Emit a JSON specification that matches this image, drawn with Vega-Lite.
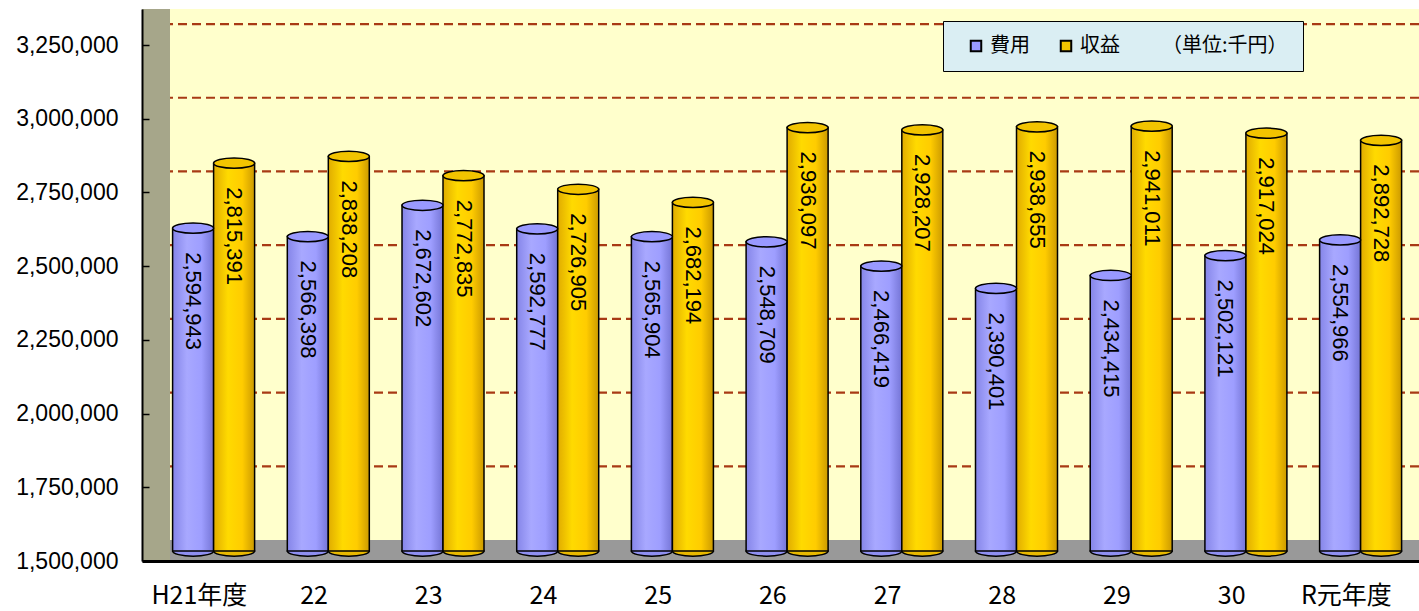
{
  "$schema": "https://vega.github.io/schema/vega-lite/v6.json",
  "width": 1277,
  "height": 552,
  "autosize": {"type": "none"},
  "padding": {"left": 142, "top": 9, "right": 0, "bottom": 50},
  "background": "white",
  "config": {"view": {"fill": "#FFFFCC", "stroke": null}},
  "data": {
    "values": [
      {"year": "H21年度", "series": "費用", "value": 2594943},
      {"year": "H21年度", "series": "収益", "value": 2815391},
      {"year": "22", "series": "費用", "value": 2566398},
      {"year": "22", "series": "収益", "value": 2838208},
      {"year": "23", "series": "費用", "value": 2672602},
      {"year": "23", "series": "収益", "value": 2772835},
      {"year": "24", "series": "費用", "value": 2592777},
      {"year": "24", "series": "収益", "value": 2726905},
      {"year": "25", "series": "費用", "value": 2565904},
      {"year": "25", "series": "収益", "value": 2682194},
      {"year": "26", "series": "費用", "value": 2548709},
      {"year": "26", "series": "収益", "value": 2936097},
      {"year": "27", "series": "費用", "value": 2466419},
      {"year": "27", "series": "収益", "value": 2928207},
      {"year": "28", "series": "費用", "value": 2390401},
      {"year": "28", "series": "収益", "value": 2938655},
      {"year": "29", "series": "費用", "value": 2434415},
      {"year": "29", "series": "収益", "value": 2941011},
      {"year": "30", "series": "費用", "value": 2502121},
      {"year": "30", "series": "収益", "value": 2917024},
      {"year": "R元年度", "series": "費用", "value": 2554966},
      {"year": "R元年度", "series": "収益", "value": 2892728}
    ]
  },
  "layer": [
    {
      "data": {"values": [{"v": 1750000}, {"v": 2000000}, {"v": 2250000}, {"v": 2500000}, {"v": 2750000}, {"v": 3000000}, {"v": 3250000}]},
      "mark": {"type": "rule", "color": "#A83A14", "strokeWidth": 2.2, "strokeDash": [9, 5], "yOffset": -21},
      "encoding": {
        "y": {"field": "v", "type": "quantitative",
          "scale": {"domain": [1500000, 3372200], "nice": false, "zero": false},
          "axis": {
            "values": [1500000, 1750000, 2000000, 2250000, 2500000, 2750000, 3000000, 3250000],
            "format": ",d", "title": null, "grid": false, "zindex": 1,
            "labelFont": "Liberation Sans", "labelFontSize": 23, "labelColor": "black",
            "domainColor": "black", "domainWidth": 2,
            "tickColor": "black", "tickSize": -7, "tickWidth": 1.5, "labelPadding": 31
          }
        }
      }
    },
    {
      "mark": {"type": "rule", "color": "#999999", "strokeWidth": 21, "yOffset": -10.5},
      "encoding": {"y": {"datum": 1500000, "type": "quantitative"}}
    },
    {
      "mark": {"type": "rule", "color": "#A6A68A", "strokeWidth": 28, "xOffset": 14},
      "encoding": {"x": {"datum": "H21年度", "type": "nominal", "bandPosition": 0}}
    },
    {
      "mark": {"type": "point", "shape": "M-1,0A1,0.25,0,1,0,1,0A1,0.25,0,1,0,-1,0Z", "size": 1681, "filled": true, "opacity": 1, "stroke": "black", "strokeWidth": 1.5, "yOffset": -10},
      "encoding": {
        "x": {"field": "year", "type": "nominal"},
        "xOffset": {"field": "series", "type": "nominal"},
        "y": {"datum": 1500000, "type": "quantitative"},
        "fill": {"condition": {"test": "datum.series === '費用'", "value": "#8F8FF0"}, "value": "#E8B800"}
      }
    },
    {
      "mark": {"type": "bar", "stroke": "black", "strokeWidth": 1.5, "yOffset": -10, "y2Offset": -10},
      "encoding": {
        "x": {
          "field": "year", "type": "nominal",
          "scale": {"domain": ["H21年度", "22", "23", "24", "25", "26", "27", "28", "29", "30", "R元年度"], "paddingInner": 0, "paddingOuter": 0.0667, "align": 0, "round": false},
          "axis": {
            "title": null, "labelAngle": 0, "labelAlign": "center", "ticks": false, "grid": false, "zindex": 1,
            "domainColor": "black", "domainWidth": 3,
            "labelFont": "Noto Sans CJK JP", "labelFontSize": 25, "labelColor": "black",
            "labelBaseline": "top", "labelPadding": 22
          }
        },
        "xOffset": {"field": "series", "type": "nominal",
          "scale": {"domain": ["費用", "収益"], "paddingInner": 0, "paddingOuter": 0.3988, "align": 0.936, "round": false}},
        "y": {"field": "value", "type": "quantitative"},
        "y2": {"datum": 1500000},
        "fill": {
          "condition": {"test": "datum.series === '費用'", "value": {"gradient": "linear", "x1": 0, "y1": 0, "x2": 1, "y2": 0, "stops": [{"offset": 0, "color": "#8585E8"}, {"offset": 0.35, "color": "#A8A8FF"}, {"offset": 0.7, "color": "#9E9EFF"}, {"offset": 1, "color": "#7575D6"}]}},
          "value": {"gradient": "linear", "x1": 0, "y1": 0, "x2": 1, "y2": 0, "stops": [{"offset": 0, "color": "#E0AC00"}, {"offset": 0.35, "color": "#FFDA00"}, {"offset": 0.7, "color": "#FFCC00"}, {"offset": 1, "color": "#CC9A00"}]}
        }
      }
    },
    {
      "mark": {"type": "point", "shape": "M-1,0A1,0.25,0,1,0,1,0A1,0.25,0,1,0,-1,0Z", "size": 1681, "filled": true, "opacity": 1, "stroke": "black", "strokeWidth": 1.5, "yOffset": -10},
      "encoding": {
        "x": {"field": "year", "type": "nominal"},
        "xOffset": {"field": "series", "type": "nominal"},
        "y": {"field": "value", "type": "quantitative"},
        "color": {
          "field": "series", "type": "nominal",
          "scale": {"domain": ["費用", "収益"], "range": ["#9999FF", "#F2C400"]},
          "legend": {
            "orient": "none", "legendX": 801, "legendY": 12,
            "direction": "horizontal",
            "title": "（単位:千円）", "titleOrient": "right",
            "titleFont": "Noto Sans CJK JP", "titleFontSize": 20, "titleFontWeight": "normal", "titleColor": "black", "titlePadding": 42,
            "labelFont": "Noto Sans CJK JP", "labelFontSize": 20, "labelColor": "black", "labelOffset": 4,
            "symbolType": "square", "symbolSize": 110, "symbolStrokeColor": "black", "symbolStrokeWidth": 2,
            "columnPadding": 18, "padding": 15, "symbolOffset": 8,
            "fillColor": "#DAEEF3", "strokeColor": "black"
          }
        }
      }
    },
    {
      "mark": {"type": "text", "angle": 90, "align": "left", "baseline": "middle", "font": "Liberation Sans", "fontSize": 22, "color": "black", "yOffset": 14},
      "encoding": {
        "x": {"field": "year", "type": "nominal"},
        "xOffset": {"field": "series", "type": "nominal"},
        "y": {"field": "value", "type": "quantitative"},
        "text": {"field": "value", "type": "quantitative", "format": ",d"}
      }
    }
  ]
}
